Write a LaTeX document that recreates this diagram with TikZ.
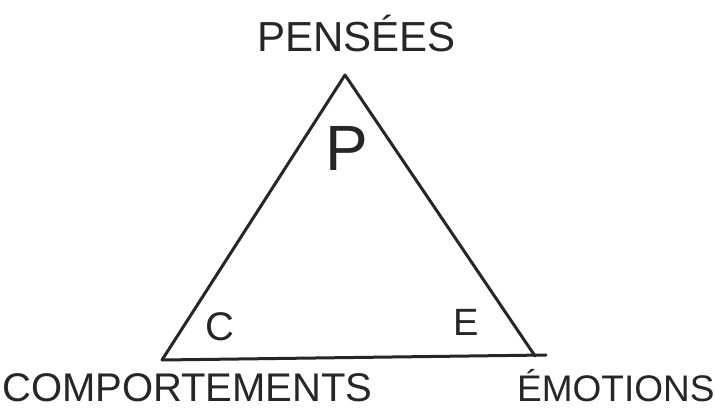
\documentclass[tikz,border=0pt]{standalone}
\usepackage{fontspec}
\setmainfont{Liberation Sans}
\definecolor{ink}{HTML}{262626}
\begin{document}
\begin{tikzpicture}[x=1pt,y=-1pt,
  stroke/.style={draw=ink,line width=3pt,line cap=round,line join=round},
  lbl/.style={text=ink,inner sep=0pt,anchor=base west}]
\useasboundingbox[fill=white] (0,0) rectangle (715,411);
% vertices
\coordinate (top) at (345,75);
\coordinate (bl) at (162,360);
\coordinate (br) at (535,356);
\coordinate (brx) at (546,355);
% triangle
\draw[stroke] (bl) -- (top) -- (br);
\draw[stroke] (bl) -- (brx);
% outer labels
\node[lbl,font=\fontsize{42}{42}\selectfont] (pensees) at (257,52) {PENSÉES};
\node[lbl,font=\fontsize{40}{40}\selectfont] (comp) at (2,402) {COMPORTEMENTS};
\node[lbl,font=\fontsize{37}{37}\selectfont] (emo) at (517,402) {ÉMOTIONS};
% inner letters
\node[lbl,font=\fontsize{64}{64}\selectfont] (p) at (325,171) {P};
\node[lbl,font=\fontsize{40}{40}\selectfont] (c) at (205,341) {C};
\node[lbl,font=\fontsize{38}{38}\selectfont] (e) at (453,336) {E};
\end{tikzpicture}
\end{document}
